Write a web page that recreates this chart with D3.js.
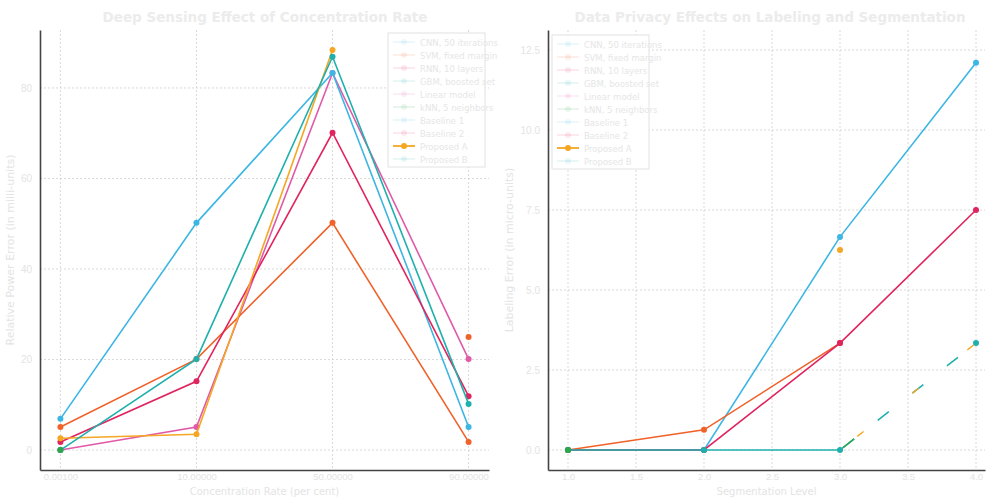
<!DOCTYPE html>
<html><head><meta charset="utf-8">
<script src="https://cdn.jsdelivr.net/npm/d3@7"></script>
<style>body{margin:0;background:#fff;font-family:"DejaVu Sans",sans-serif}</style>
</head><body><svg id="c" width="989" height="497"></svg>
<script>
// ---- data ----
const leftCategories = ["0.00100", "10.00000", "50.00000", "90.00000"];
const leftYTicks = [0, 20, 40, 60, 80];
const rightXTicks = [1.0, 1.5, 2.0, 2.5, 3.0, 3.5, 4.0];
const rightYTicks = [0, 2.5, 5.0, 7.5, 10.0, 12.5];
const rightX = [1.0, 2.0, 3.0, 4.0];
const legendLabels = ["CNN, 50 iterations", "SVM, fixed margin", "RNN, 10 layers", "GBM, boosted set", "Linear model", "kNN, 5 neighbors", "Baseline 1", "Baseline 2", "Proposed A", "Proposed B"];
const seriesNames = ["blue", "orange", "gold", "crimson", "pink", "teal", "green", "orange2"];
const seriesColors = ["#3cb6e3", "#f0622a", "#f5a623", "#e0245e", "#e05aa8", "#1fb0ad", "#2ca64a", "#f0622a"];
const leftBlue = [6.9, 50.2, 83.3, 5.1];
const leftOrange = [5.1, 20.1, 50.2, 1.8];
const leftGold = [2.6, 3.5, 88.4, null];
const leftCrimson = [1.8, 15.2, 70.1, 11.9];
const leftPink = [0, 5.1, 83.3, 20.1];
const leftTeal = [0, 20.1, 86.9, 10.2];
const leftGreen = [0, null, null, null];
const leftOrange2 = [null, null, null, 25.0];
const rightBlue = [0, 0, 6.66, 12.1];
const rightOrange = [0, 0.63, 3.34, null];
const rightGold = [null, null, 6.25, null];
const rightCrimson = [0, 0, 3.34, 7.5];
const rightPink = [null, null, null, null];
const rightTeal = [0, 0, 0, 3.34];
const rightGreen = [0, null, null, null];
const rightOrange2 = [null, null, null, null];
const titles = ["Deep Sensing Effect of Concentration Rate", "Data Privacy Effects on Labeling and Segmentation"];
const xTitles = ["Concentration Rate (per cent)", "Segmentation Level"];
const yTitles = ["Relative Power Error (in milli-units)", "Labeling Error (in micro-units)"];

const leftSeries = [leftBlue, leftOrange, leftGold, leftCrimson, leftPink, leftTeal, leftGreen, leftOrange2];
const rightSeries = [rightBlue, rightOrange, rightGold, rightCrimson, rightPink, rightTeal, rightGreen, rightOrange2];
const legendColors = ["#3cb6e3", "#f0622a", "#e0245e", "#1fb0ad", "#e05aa8", "#2ca64a", "#3cb6e3", "#e0245e", "#f5a623", "#1fb0ad"];

const svg = d3.select("#c");
const textCol = "#e4e4e4";
const drawOrder = [4, 0, 1, 3, 2, 5, 6, 7];

function panel(opt) {
  const g = svg.append("g");
  const {x, y, xVals, series, xTickVals, xTickFmt, yTickVals, yFmt} = opt;
  const top = 30, bottom = 470;
  // grid
  g.selectAll(".gx").data(xTickVals).join("line")
    .attr("x1", d => x(d)).attr("x2", d => x(d)).attr("y1", top).attr("y2", bottom)
    .attr("stroke", "#cfcfcf").attr("stroke-dasharray", "2,2").attr("stroke-width", 0.8);
  g.selectAll(".gy").data(yTickVals).join("line")
    .attr("x1", opt.x0).attr("x2", opt.x1).attr("y1", d => y(d)).attr("y2", d => y(d))
    .attr("stroke", "#cfcfcf").attr("stroke-dasharray", "2,2").attr("stroke-width", 0.8);
  // axes
  const ax = g.append("g").attr("transform", `translate(0,${bottom})`)
    .call(d3.axisBottom(x).tickValues(xTickVals).tickFormat(xTickFmt).tickSize(0).tickPadding(3));
  ax.select(".domain").attr("stroke", "#444").attr("stroke-width", 1.6);
  ax.selectAll("text").attr("fill", textCol).attr("font-size", 9.5);
  const ay = g.append("g").attr("transform", `translate(${opt.x0},0)`)
    .call(d3.axisLeft(y).tickValues(yTickVals).tickFormat(yFmt).tickSize(0).tickPadding(8));
  ay.select(".domain").attr("stroke", "#444").attr("stroke-width", 1.6);
  ay.selectAll("text").attr("fill", textCol).attr("font-size", 10);
  // lines
  drawOrder.forEach(i => {
    const vals = series[i];
    const pts = vals.map((v, j) => [xVals[j], v]);
    const line = d3.line().defined(d => d[1] != null).x(d => x(d[0])).y(d => y(d[1]));
    const p = g.append("path").datum(pts).attr("d", line).attr("fill", "none")
      .attr("stroke", seriesColors[i]).attr("stroke-width", 1.6);
    if (opt.dashLast && i === 5) {
      p.attr("d", line(pts.slice(0, 3)));
      g.append("path").datum(pts.slice(2)).attr("d", line).attr("fill", "none")
        .attr("stroke", seriesColors[i]).attr("stroke-width", 1.6).attr("stroke-dasharray", "14,30").attr("stroke-dashoffset", -48);
      g.append("path").datum(pts.slice(2)).attr("d", line).attr("fill", "none")
        .attr("stroke", "#f5a623").attr("stroke-width", 1.4).attr("stroke-dasharray", "0,22,8,40");
      g.append("path").datum(pts.slice(2)).attr("d", line).attr("fill", "none")
        .attr("stroke", "#2ca64a").attr("stroke-width", 1.4).attr("stroke-dasharray", "0,2,16,200");
    }
    g.selectAll(null).data(pts.filter(d => d[1] != null)).join("circle")
      .attr("cx", d => x(d[0])).attr("cy", d => y(d[1])).attr("r", 3)
      .attr("fill", seriesColors[i]);
  });
  // titles
  g.append("text").attr("x", opt.tx).attr("y", 22).attr("text-anchor", "middle")
    .attr("font-size", 13.5).attr("font-weight", "bold").attr("fill", "#ececec").text(opt.title);
  g.append("text").attr("x", (opt.x0 + opt.x1) / 2).attr("y", 495).attr("text-anchor", "middle")
    .attr("font-size", 10).attr("fill", textCol).text(opt.xTitle);
  g.append("text").attr("transform", `translate(${opt.yx},250) rotate(-90)`).attr("text-anchor", "middle")
    .attr("font-size", 11).attr("fill", textCol).text(opt.yTitle);
  // legend
  const lg = g.append("g").attr("transform", `translate(${opt.lx},${opt.ly})`);
  lg.append("rect").attr("width", 97).attr("height", 134).attr("fill", "#fff")
    .attr("stroke", "#e2e2e2").attr("stroke-width", 1);
  legendLabels.forEach((lab, k) => {
    const yy = 9 + k * 13;
    const op = k === 8 ? 1 : 0.1;
    lg.append("line").attr("x1", 5).attr("x2", 27).attr("y1", yy).attr("y2", yy)
      .attr("stroke", legendColors[k]).attr("stroke-width", 1.8).attr("opacity", op);
    lg.append("circle").attr("cx", 16).attr("cy", yy).attr("r", 3).attr("fill", legendColors[k]).attr("opacity", op);
    lg.append("text").attr("x", 32).attr("y", yy + 3.5).attr("font-size", 8.5).attr("fill", "#e6e6e6").text(lab);
  });
}

// left panel
const xL = d3.scalePoint().domain(d3.range(leftCategories.length)).range([40, 489]).padding(0.15);
const yL = d3.scaleLinear().domain([-4.4, 92.8]).range([470, 30]);
panel({x: xL, y: yL, xVals: d3.range(4), series: leftSeries, xTickVals: d3.range(4),
  xTickFmt: i => leftCategories[i], yTickVals: leftYTicks, yFmt: d3.format("d"),
  x0: 40, x1: 489, tx: 265, title: titles[0], xTitle: xTitles[0], yTitle: yTitles[0], yx: 14,
  lx: 388, ly: 33});

// right panel
const xR = d3.scaleLinear().domain([0.853, 4.066]).range([548, 985]);
const yR = d3.scaleLinear().domain([-0.625, 13.125]).range([470, 30]);
panel({x: xR, y: yR, xVals: rightX, series: rightSeries, xTickVals: rightXTicks,
  xTickFmt: d3.format(".1f"), yTickVals: rightYTicks, yFmt: d3.format(".1f"),
  x0: 548, x1: 985, tx: 770, title: titles[1], xTitle: xTitles[1], yTitle: yTitles[1], yx: 513,
  lx: 552, ly: 35, dashLast: true});
</script></body></html>
